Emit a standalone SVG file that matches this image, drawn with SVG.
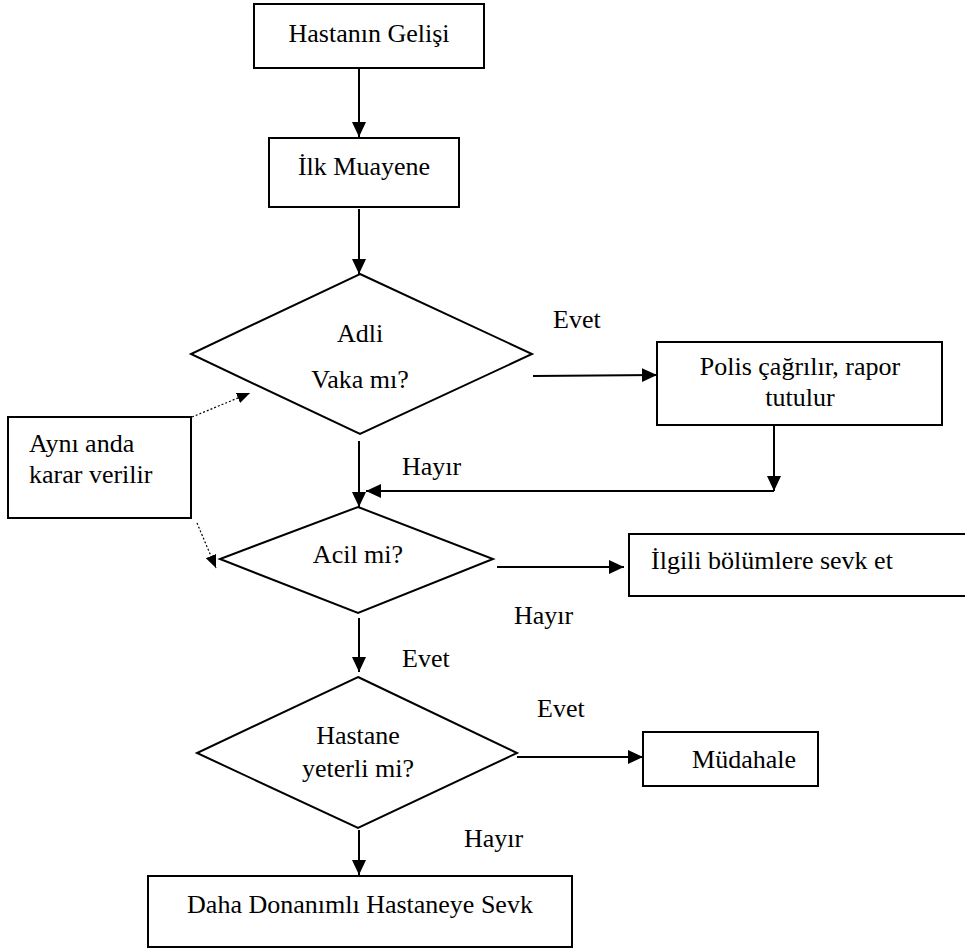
<svg xmlns="http://www.w3.org/2000/svg" width="965" height="950" viewBox="0 0 965 950">
<defs>
<style>
.box{fill:#fff;stroke:#000;stroke-width:2}
.ln{fill:none;stroke:#000;stroke-width:2}
.dot{fill:none;stroke:#000;stroke-width:1.2;stroke-dasharray:2 2}
.t{font-family:'Liberation Serif','Times New Roman','DejaVu Serif',serif;font-size:26px;fill:#000}
.c{text-anchor:middle}
</style>
<marker id="ah" markerUnits="userSpaceOnUse" markerWidth="16" markerHeight="16" refX="15" refY="7" orient="auto">
<path d="M0,0 L15,7 L0,14 Z" fill="#000"/>
</marker>
<marker id="ahs" markerUnits="userSpaceOnUse" markerWidth="14" markerHeight="12" refX="13" refY="5.5" orient="auto">
<path d="M0,0 L13,5.5 L0,11 Z" fill="#000"/>
</marker>
</defs>
<rect width="965" height="950" fill="#fff"/>
<g id="connectors">
<line class="ln" x1="359" y1="69" x2="359" y2="137" marker-end="url(#ah)"/>
<line class="ln" x1="359" y1="209" x2="359" y2="274" marker-end="url(#ah)"/>
<line class="ln" x1="533" y1="376" x2="657" y2="375" marker-end="url(#ah)"/>
<line class="ln" x1="774" y1="425" x2="774" y2="491" marker-end="url(#ah)"/>
<line class="ln" x1="774" y1="491" x2="366" y2="491" marker-end="url(#ah)"/>
<line class="ln" x1="359" y1="441" x2="359" y2="507" marker-end="url(#ah)"/>
<line class="ln" x1="497" y1="567" x2="624" y2="567" marker-end="url(#ah)"/>
<line class="ln" x1="359" y1="618" x2="359" y2="672" marker-end="url(#ah)"/>
<line class="ln" x1="517" y1="757" x2="643" y2="757" marker-end="url(#ah)"/>
<line class="ln" x1="359" y1="830" x2="359" y2="875" marker-end="url(#ah)"/>
<line class="dot" x1="192" y1="417" x2="250" y2="393" marker-end="url(#ahs)"/>
<line class="dot" x1="197" y1="523" x2="216" y2="568" marker-end="url(#ahs)"/>
</g>
<g class="t" font-family="Liberation Serif, serif" font-size="26">
<g id="n_gelis">
<rect class="box" x="254" y="4" width="230" height="64"/>
<text class="t c" x="369" y="42">Hastanın Gelişi</text>
</g>
<g id="n_muayene">
<rect class="box" x="269" y="138" width="190" height="69"/>
<text class="t c" x="364" y="175">İlk Muayene</text>
</g>
<g id="n_adli">
<polygon class="box" points="360,274 532,354 360,434 191,354"/>
<text class="t c" x="360" y="342">Adli</text>
<text class="t c" x="360" y="388">Vaka mı?</text>
</g>
<g id="n_polis">
<rect class="box" x="657" y="342" width="285" height="83"/>
<text class="t c" x="800" y="375">Polis çağrılır, rapor</text>
<text class="t c" x="800" y="406">tutulur</text>
</g>
<g id="n_ayni">
<rect class="box" x="8" y="417" width="183" height="101"/>
<text class="t" x="29" y="452">Aynı anda</text>
<text class="t" x="29" y="483">karar verilir</text>
</g>
<g id="n_acil">
<polygon class="box" points="358,507 493,559 358,613 220,559"/>
<text class="t c" x="358" y="563">Acil mi?</text>
</g>
<g id="n_ilgili">
<rect class="box" x="629" y="534" width="345" height="62"/>
<text class="t" x="651" y="569">İlgili bölümlere sevk et</text>
</g>
<g id="n_yeterli">
<polygon class="box" points="358,677 517,753 358,828 197,753"/>
<text class="t c" x="358" y="744">Hastane</text>
<text class="t c" x="358" y="777">yeterli mi?</text>
</g>
<g id="n_mudahale">
<rect class="box" x="643" y="732" width="175" height="54"/>
<text class="t c" x="744" y="768">Müdahale</text>
</g>
<g id="n_sevk">
<rect class="box" x="148" y="876" width="424" height="71"/>
<text class="t c" x="360" y="913">Daha Donanımlı Hastaneye Sevk</text>
</g>
<g id="labels">
<text class="t" x="553" y="328">Evet</text>
<text class="t" x="402" y="475">Hayır</text>
<text class="t" x="514" y="624">Hayır</text>
<text class="t" x="402" y="667">Evet</text>
<text class="t" x="537" y="717">Evet</text>
<text class="t" x="464" y="847">Hayır</text>
</g>
</g>
</svg>
